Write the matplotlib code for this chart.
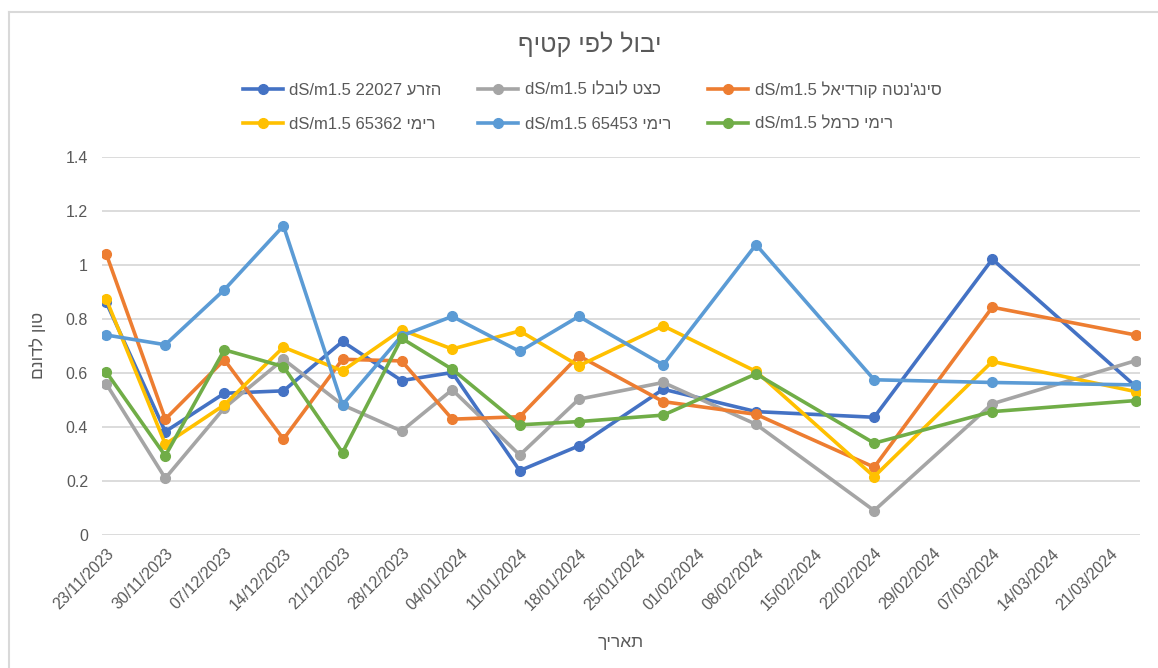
import matplotlib
matplotlib.use("Agg")
import matplotlib.pyplot as plt
import matplotlib.dates as mdates
from matplotlib.lines import Line2D
import datetime as dt

plt.rcParams['font.family'] = ['Liberation Sans', 'DejaVu Sans']

# Sampling dates (dd/mm/yyyy)
dates = ["23/11/2023", "30/11/2023", "07/12/2023", "14/12/2023", "21/12/2023",
         "28/12/2023", "03/01/2024", "11/01/2024", "18/01/2024", "28/01/2024",
         "08/02/2024", "22/02/2024", "07/03/2024", "24/03/2024"]

# Series labels in visual (left-to-right) order
label_blue = "dS/m1.5 22027 " + "הזרע"[::-1]
label_gray = "dS/m1.5 " + "כצט לובלו"[::-1]
label_orange = "dS/m1.5 " + "סינג'נטה קורדיאל"[::-1]
label_yellow = "dS/m1.5 65362 " + "רימי"[::-1]
label_lblue = "dS/m1.5 65453 " + "רימי"[::-1]
label_green = "dS/m1.5 " + "רימי כרמל"[::-1]

# Series values (ton per dunam)
vals_blue = [0.861, 0.382, 0.524, 0.533, 0.716, 0.571, 0.601, 0.237, 0.329, 0.539, 0.456, 0.435, 1.021, 0.549]
vals_gray = [0.559, 0.209, 0.470, 0.650, 0.481, 0.384, 0.537, 0.295, 0.502, 0.564, 0.409, 0.089, 0.485, 0.645]
vals_orange = [1.041, 0.428, 0.648, 0.354, 0.650, 0.644, 0.428, 0.437, 0.663, 0.493, 0.446, 0.250, 0.843, 0.740]
vals_yellow = [0.873, 0.335, 0.481, 0.695, 0.607, 0.759, 0.688, 0.755, 0.626, 0.774, 0.605, 0.215, 0.642, 0.530]
vals_lblue = [0.740, 0.704, 0.908, 1.145, 0.481, 0.737, 0.809, 0.679, 0.809, 0.629, 1.075, 0.574, 0.564, 0.555]
vals_green = [0.603, 0.292, 0.685, 0.623, 0.304, 0.728, 0.613, 0.407, 0.419, 0.443, 0.596, 0.339, 0.456, 0.497]

tick_start = "23/11/2023"
tick_end = "21/03/2024"

title = "יבול לפי קטיף"[::-1]
ylabel = "טון לדונם"[::-1]
xlabel = "תאריך"[::-1]

series = [
    (label_blue, vals_blue, "#4472C4"),
    (label_gray, vals_gray, "#A5A5A5"),
    (label_orange, vals_orange, "#ED7D31"),
    (label_yellow, vals_yellow, "#FFC000"),
    (label_lblue, vals_lblue, "#5B9BD5"),
    (label_green, vals_green, "#70AD47"),
]

def parse(s):
    return dt.datetime.strptime(s, "%d/%m/%Y")

x = [parse(d) for d in dates]

fig = plt.figure(figsize=(11.58, 6.68), dpi=100)
ax = fig.add_axes([102 / 1158, 1 - 534.6 / 668, (1140 - 102) / 1158, (534.6 - 157) / 668])

handles = {}
for lab, vals, col in series:
    h, = ax.plot(x, vals, color=col, lw=2.6, marker='o', ms=7, label=lab,
                 solid_joinstyle='round', zorder=3)
    handles[lab] = h

ax.set_ylim(0, 1.4)
ax.set_yticks([0, 0.2, 0.4, 0.6, 0.8, 1.0, 1.2, 1.4])
ax.set_yticklabels(["0", "0.2", "0.4", "0.6", "0.8", "1", "1.2", "1.4"])
ax.set_xlim(x[0] - dt.timedelta(hours=12), x[-1] + dt.timedelta(hours=12))

ticks = []
t = parse(tick_start)
while t <= parse(tick_end):
    ticks.append(t)
    t += dt.timedelta(days=7)
ax.set_xticks(ticks)
ax.xaxis.set_major_formatter(mdates.DateFormatter("%d/%m/%Y"))
for lbl in ax.get_xticklabels():
    lbl.set_rotation(45)
    lbl.set_ha('right')
    lbl.set_rotation_mode('anchor')

ax.tick_params(axis='both', length=0, colors='#595959', labelsize=11.5)
ax.tick_params(axis='x', pad=8)
ax.tick_params(axis='y', pad=10)
ax.grid(axis='y', color='#D9D9D9', lw=1.3)
ax.set_axisbelow(True)
for sp in ax.spines.values():
    sp.set_visible(False)

ax.set_ylabel(ylabel, fontsize=12.5, color='#595959', labelpad=14)
ax.set_xlabel(xlabel, fontsize=12.5, color='#595959', labelpad=16)

fig.text(590 / 1158, 1 - 44 / 668, title, ha='center', va='center', fontsize=18, color='#595959')

order = [label_blue, label_yellow, label_gray, label_lblue, label_orange, label_green]
leg = fig.legend([handles[k] for k in order], order, loc='center', ncol=3,
                 bbox_to_anchor=(592 / 1158, 1 - 106.5 / 668), frameon=False,
                 fontsize=12, handlelength=2.4, columnspacing=2.2,
                 labelspacing=1.15, handletextpad=0.4)
for txt in leg.get_texts():
    txt.set_color('#595959')

# chart-area border
fig.add_artist(Line2D([8.5 / 1158, 8.5 / 1158], [0, 1 - 12 / 668], color='#D9D9D9', lw=1.5))
fig.add_artist(Line2D([8.5 / 1158, 1], [1 - 12 / 668, 1 - 12 / 668], color='#D9D9D9', lw=1.5))

fig.savefig("out.png", dpi=100)
